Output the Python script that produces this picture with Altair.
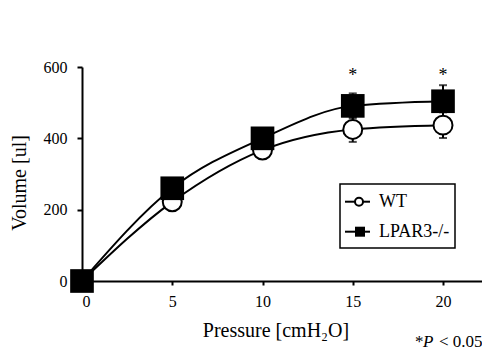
import altair as alt
import pandas as pd

pressure = [0, 5, 10, 15, 20]
wt_mean = [0, 222, 367, 425, 437]
wt_err = [0, 12, 12, 35, 36]
ko_mean = [0, 260, 400, 491, 504]
ko_err = [0, 12, 12, 35, 45]
groups = ["WT", "LPAR3-/-"]
sig_pressure = [15, 20]
sig_y = [574, 574]
x_ticks = [0, 5, 10, 15, 20]
y_ticks = [0, 200, 400, 600]

FONT = "Liberation Serif"

rows = []
for g, m, e in [(groups[0], wt_mean, wt_err), (groups[1], ko_mean, ko_err)]:
    for p, v, s in zip(pressure, m, e):
        rows.append({"pressure": p, "volume": v, "lo": v - s, "hi": v + s, "group": g})
df = pd.DataFrame(rows)
wt = df[df.group == "WT"]
ko = df[df.group == "LPAR3-/-"]

xs = alt.Scale(domain=[0, 22.16], nice=False, zero=False)
ys = alt.Scale(domain=[0, 600], nice=False)

axis_common = dict(
    title=None, grid=False, domainColor="black", domainWidth=2, tickColor="black",
    tickWidth=2, labelColor="black", labelFont=FONT, labelFontSize=16, format="d",
)
X = alt.X("pressure:Q", scale=xs,
          axis=alt.Axis(values=x_ticks, tickSize=4, labelPadding=8, labelAngle=0, **axis_common))
Y = alt.Y("volume:Q", scale=ys,
          axis=alt.Axis(values=y_ticks, tickSize=5, labelPadding=10, **axis_common))

lines = alt.Chart(df).mark_line(interpolate="monotone", color="black", strokeWidth=2).encode(
    x=X, y=Y, detail="group:N")

err = alt.Chart(df).mark_rule(color="black", strokeWidth=2).encode(
    x="pressure:Q", y="lo:Q", y2="hi:Q")
cap_hi = alt.Chart(df).mark_tick(color="black", thickness=2, size=8, orient="horizontal").encode(
    x="pressure:Q", y="hi:Q")
cap_lo = alt.Chart(df).mark_tick(color="black", thickness=2, size=8, orient="horizontal").encode(
    x="pressure:Q", y="lo:Q")

circles = alt.Chart(wt).mark_point(shape="circle", filled=True, fill="white", stroke="black",
                                   strokeWidth=2, size=360, opacity=1).encode(
    x="pressure:Q", y="volume:Q")
squares = alt.Chart(ko).mark_square(color="black", size=560, opacity=1).encode(
    x="pressure:Q", y="volume:Q")

sig = alt.Chart(pd.DataFrame({"pressure": sig_pressure, "volume": sig_y})).mark_text(
    text="*", font=FONT, fontSize=18, color="black", baseline="middle").encode(
    x="pressure:Q", y="volume:Q")

one = pd.DataFrame({"a": [0]})
box = alt.Chart(one).mark_rect(fill="white", stroke="black", strokeWidth=1.5).encode(
    x=alt.value(258), x2=alt.value(373), y=alt.value(117), y2=alt.value(181))
leg_lines = [
    alt.Chart(one).mark_rule(color="black", strokeWidth=2).encode(
        x=alt.value(263), x2=alt.value(288), y=alt.value(yy))
    for yy in (134.7, 164.7)
]
leg_circle = alt.Chart(one).mark_point(shape="circle", filled=True, fill="white", stroke="black",
                                       strokeWidth=2, size=64, opacity=1).encode(
    x=alt.value(277), y=alt.value(134.7))
leg_square = alt.Chart(one).mark_square(color="black", size=100, opacity=1).encode(
    x=alt.value(278), y=alt.value(164.7))
leg_text = [
    alt.Chart(one).mark_text(text=t, font=FONT, fontSize=18, color="black", align="left",
                             baseline="middle").encode(x=alt.value(297), y=alt.value(yy))
    for t, yy in ((groups[0], 134.7), (groups[1], 164.7))
]

xtitle = alt.Chart(one).mark_text(text="Pressure [cmH\u2082O]", font=FONT, fontSize=20,
                                  color="black", baseline="middle").encode(
    x=alt.value(194), y=alt.value(264))
ytitle = alt.Chart(one).mark_text(text="Volume [ul]", font=FONT, fontSize=20, angle=270,
                                  color="black", baseline="middle").encode(
    x=alt.value(-62), y=alt.value(116))
p1 = alt.Chart(one).mark_text(text="*", font=FONT, fontSize=17, color="black", align="left",
                              baseline="middle").encode(x=alt.value(333), y=alt.value(275))
p2 = alt.Chart(one).mark_text(text="P", font=FONT, fontSize=17, fontStyle="italic", color="black",
                              align="left", baseline="middle").encode(x=alt.value(341), y=alt.value(275))
p3 = alt.Chart(one).mark_text(text="< 0.05", font=FONT, fontSize=17, color="black", align="left",
                              baseline="middle").encode(x=alt.value(357), y=alt.value(275))

chart = alt.layer(
    lines, err, cap_hi, cap_lo, circles, squares, sig,
    box, *leg_lines, leg_circle, leg_square, *leg_text,
    xtitle, ytitle, p1, p2, p3,
).properties(
    width=400, height=214,
    autosize=alt.AutoSizeParams(type="none"),
    padding={"left": 74, "top": 59, "right": 0, "bottom": 70},
).configure(
    background="white",
    view=alt.ViewConfig(stroke=None),
    axis=alt.AxisConfig(labelFont=FONT, labelFontSize=16),
)

chart.save("out.html", embed_options={"renderer": "svg", "actions": False})
